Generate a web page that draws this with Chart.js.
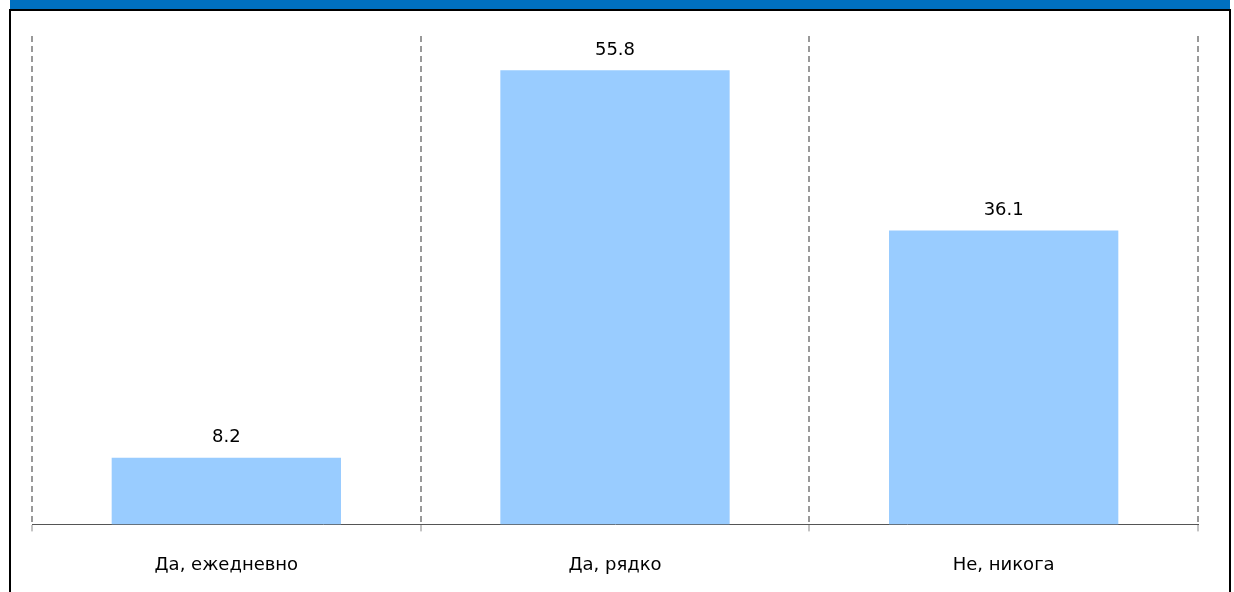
<!DOCTYPE html>
<html>
<head>
<meta charset="utf-8">
<script src="https://cdn.jsdelivr.net/npm/chart.js@4"></script>
<style>
    body { margin: 0; background: #fff; overflow: hidden; }
    #band { position: absolute; left: 10px; top: 0; width: 1220px; height: 9px; background: #0070C0; }
    #frame { position: absolute; left: 9px; top: 9px; width: 1218px; height: 600px; border: 2px solid #000; }
    #wrap { position: absolute; left: 11px; top: 11px; width: 1217px; height: 588px; }
</style>
</head>
<body>
<div id="band"></div>
<div id="frame"></div>
<div id="wrap"><canvas id="surveyChart"></canvas></div>
<script>
var categories = ['Да, ежедневно', 'Да, рядко', 'Не, никога'];
var shares = [8.2, 55.8, 36.1];

// value labels above the bars
var valueLabels = {
    id: 'valueLabels',
    afterDatasetsDraw: function(chart) {
        var ctx = chart.ctx;
        var meta = chart.getDatasetMeta(0);
        ctx.save();
        ctx.font = '18px "DejaVu Sans"';
        ctx.fillStyle = '#000';
        ctx.textAlign = 'center';
        ctx.textBaseline = 'bottom';
        meta.data.forEach(function(bar, i) {
            ctx.fillText(shares[i].toFixed(1), bar.x, bar.y - 11);
        });
        ctx.restore();
    }
};

var ctx = document.getElementById('surveyChart').getContext('2d');
var surveyChart = new Chart(ctx, {
    type: 'bar',
    data: {
        labels: categories,
        datasets: [{
            data: shares,
            backgroundColor: '#99CCFF',
            borderWidth: 0,
            barPercentage: 0.59,
            categoryPercentage: 1
        }]
    },
    options: {
        responsive: true,
        maintainAspectRatio: false,
        animation: false,
        layout: { padding: { left: 21, right: 30, top: 25, bottom: 0 } },
        plugins: {
            legend: { display: false },
            tooltip: { enabled: false }
        },
        scales: {
            y: {
                display: false,
                min: 0,
                max: 60
            },
            x: {
                grid: {
                    offset: true,
                    color: '#999',
                    lineWidth: 2,
                    tickColor: '#888',
                    tickWidth: 1,
                    tickLength: 7
                },
                border: {
                    color: '#555',
                    width: 1,
                    dash: [6, 4]
                },
                ticks: {
                    color: '#000',
                    padding: 23,
                    font: { family: 'DejaVu Sans', size: 18 }
                }
            }
        }
    },
    plugins: [valueLabels]
});
</script>
</body>
</html>
